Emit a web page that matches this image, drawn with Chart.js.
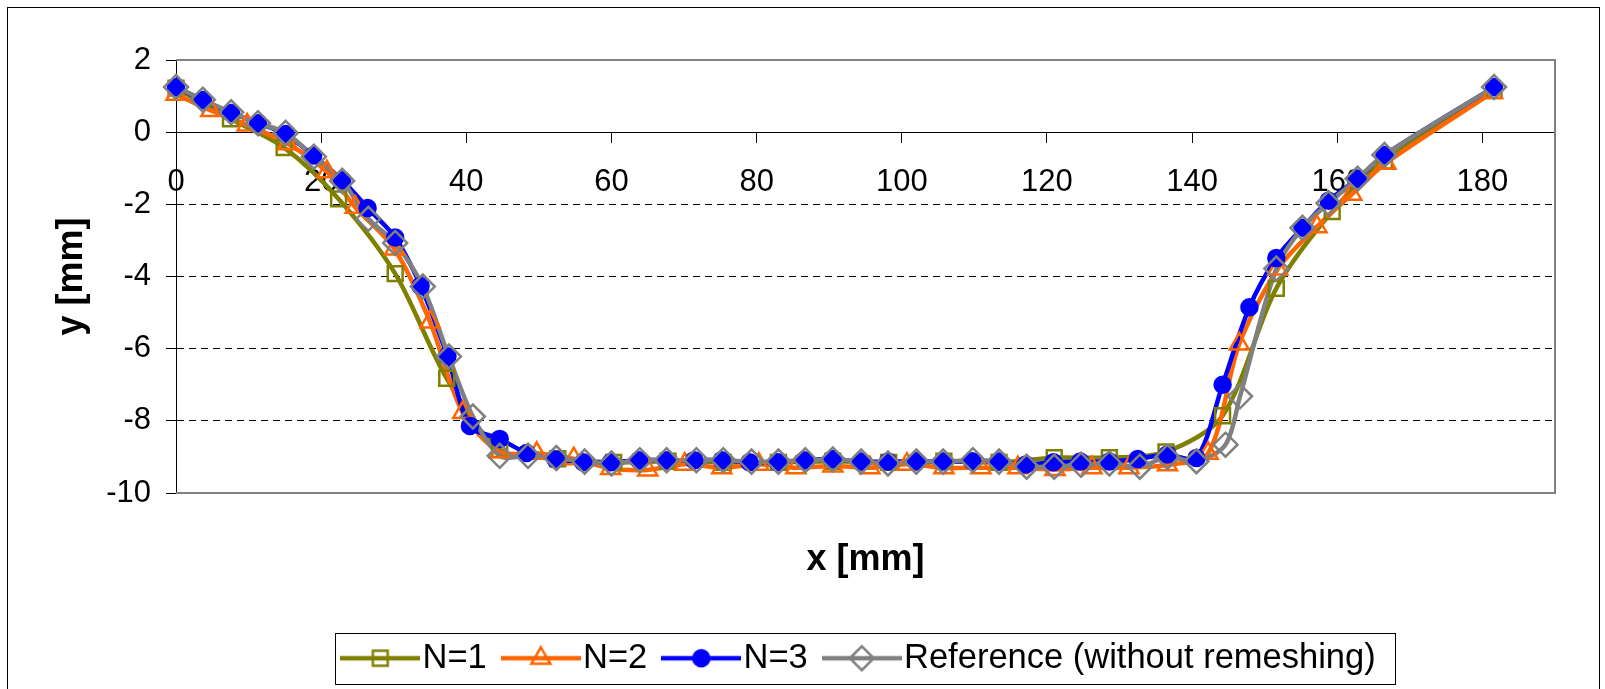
<!DOCTYPE html>
<html>
<head>
<meta charset="utf-8">
<title>y profile along x</title>
<script src="https://cdn.jsdelivr.net/npm/chart.js@4.4.1/dist/chart.umd.min.js"></script>
<style>
  body { margin: 0; background: #fff; }
  canvas { display: block; }
</style>
</head>
<body>
<canvas id="chart" width="1605" height="689"></canvas>
<script>
// axis ticks
const xTicks = [0, 20, 40, 60, 80, 100, 120, 140, 160, 180];
const yTicks = [-10, -8, -6, -4, -2, 0, 2];

const names = ['N=1', 'N=2', 'N=3', 'Reference (without remeshing)'];

// N=1
const n1X = [0, 7.5, 14.9, 22.4, 30.2, 37.3, 44.6, 52.6, 60.3, 67.8, 75.4, 83, 90.5, 98.2, 105.8, 113.4, 121, 128.6, 136.4, 144.2, 151.6, 159.3, 166.5, 181.6];
const n1Y = [1.22, 0.37, -0.43, -1.85, -3.92, -6.82, -8.8, -9.05, -9.15, -9.12, -9.15, -9.15, -9.12, -9.15, -9.12, -9.15, -9.02, -9.02, -8.86, -7.86, -4.33, -2.2, -0.8, 1.15];

// N=2
const n2X = [0, 4.8, 9.8, 15.4, 20.8, 24.7, 30.1, 35, 39.5, 44.6, 49.7, 54.8, 59.9, 65, 70.1, 75.2, 80.3, 85.4, 90.5, 95.6, 100.7, 105.8, 110.9, 116, 121.1, 126.2, 131.3, 136.6, 142.2, 146.5, 151.8, 157.2, 162, 166.7, 181.4];
const n2Y = [1.05, 0.6, 0.2, -0.32, -1.1, -2.08, -3.24, -5.26, -7.77, -8.86, -8.9, -9.05, -9.32, -9.36, -9.2, -9.3, -9.2, -9.3, -9.25, -9.3, -9.2, -9.3, -9.3, -9.3, -9.35, -9.3, -9.3, -9.22, -8.9, -5.87, -3.79, -2.62, -1.72, -0.86, 1.1];

// N=3
const n3X = [0, 3.7, 7.6, 11.3, 15.1, 18.9, 22.9, 26.4, 30.2, 33.7, 37.4, 40.5, 44.6, 48.3, 52.3, 56.1, 59.9, 63.8, 67.6, 71.4, 75.2, 79, 82.9, 86.6, 90.5, 94.4, 98.1, 102, 105.7, 109.7, 113.4, 117.1, 120.9, 124.6, 128.6, 132.5, 136.6, 140.6, 144.2, 147.9, 151.6, 155.2, 158.8, 162.8, 166.5, 181.6];
const n3Y = [1.25, 0.89, 0.53, 0.25, -0.05, -0.65, -1.33, -2.1, -2.92, -4.26, -6.21, -8.14, -8.5, -8.89, -9.07, -9.15, -9.15, -9.09, -9.09, -9.09, -9.09, -9.15, -9.15, -9.09, -9.06, -9.13, -9.13, -9.12, -9.13, -9.12, -9.13, -9.21, -9.15, -9.13, -9.13, -9.06, -8.93, -9.03, -7.0, -4.85, -3.49, -2.65, -1.9, -1.29, -0.63, 1.25];

// Reference (without remeshing)
const refX = [0, 3.7, 7.6, 11.3, 15.1, 19, 22.9, 26.5, 30.2, 34, 37.6, 40.9, 44.6, 48.5, 52.4, 56.3, 60, 63.9, 67.6, 71.7, 75.4, 79.3, 83, 86.7, 90.5, 94.4, 98.1, 102, 105.7, 109.8, 113.4, 117.2, 121, 124.7, 128.6, 132.8, 136.6, 140.6, 144.6, 146.6, 151.6, 155.2, 158.8, 162.8, 166.5, 181.6];
const refY = [1.25, 0.9, 0.55, 0.25, -0.02, -0.68, -1.35, -2.4, -3.07, -4.28, -6.22, -7.88, -8.97, -8.97, -9.03, -9.13, -9.18, -9.09, -9.09, -9.09, -9.09, -9.13, -9.13, -9.09, -9.07, -9.13, -9.18, -9.13, -9.13, -9.09, -9.13, -9.27, -9.27, -9.22, -9.18, -9.27, -9.0, -9.12, -8.66, -7.32, -3.78, -2.65, -1.97, -1.29, -0.63, 1.25];

const FONT = 'Arial, "Liberation Sans", sans-serif';
const colors = ['#808000', '#ff6600', '#0000ff', '#808080'];
const markers = ['rect', 'triangle', 'circle', 'rectRot'];
const markerSize = [10.5, 11, 8, 12];
const markerFill = ['rgba(0,0,0,0)', 'rgba(0,0,0,0)', '#0000ff', 'rgba(0,0,0,0)'];

const pts = (xs, ys) => xs.map((x, i) => ({ x: x, y: ys[i] }));
const series = [pts(n1X, n1Y), pts(n2X, n2Y), pts(n3X, n3Y), pts(refX, refY)];

// Excel draws every line first, then the markers on top
const lineSets = series.map((data, i) => ({
  label: names[i],
  data: data,
  xAxisID: 'x',
  yAxisID: 'y',
  showLine: true,
  borderColor: colors[i],
  borderWidth: 4.5,
  tension: 0.3,
  pointRadius: 0,
  pointHoverRadius: 0,
  order: 8 - i
}));
const markSets = series.map((data, i) => ({
  label: names[i] + ' markers',
  data: data,
  xAxisID: 'x',
  yAxisID: 'y',
  showLine: false,
  pointStyle: markers[i],
  pointRadius: markerSize[i],
  pointHoverRadius: markerSize[i],
  pointBorderColor: colors[i],
  pointBackgroundColor: markerFill[i],
  pointBorderWidth: 2.5,
  clip: false,
  order: 4 - i
}));

// legend sample: a short line with the marker in its middle
function sample(i) {
  const c = document.createElement('canvas');
  c.width = 80;
  c.height = 34;
  const g = c.getContext('2d');
  g.strokeStyle = colors[i];
  g.lineWidth = 4.5;
  g.beginPath();
  g.moveTo(0, 17);
  g.lineTo(80, 17);
  g.stroke();
  g.fillStyle = markerFill[i];
  g.lineWidth = 2.5;
  Chart.helpers.drawPoint(g, { pointStyle: markers[i], radius: markerSize[i], borderWidth: 2.5, rotation: 0 }, 40, 17);
  return c;
}
const samples = names.map((n, i) => sample(i));

const framePlugin = {
  id: 'frames',
  beforeDatasetsDraw(chart) {
    const { ctx, chartArea: a } = chart;
    ctx.save();
    ctx.strokeStyle = '#808080';
    ctx.lineWidth = 2;
    ctx.beginPath();
    ctx.moveTo(a.left, a.top);
    ctx.lineTo(a.right, a.top);
    ctx.lineTo(a.right, a.bottom);
    ctx.lineTo(a.left, a.bottom);
    ctx.stroke();
    ctx.restore();
  },
  afterDraw(chart) {
    const { ctx, legend } = chart;
    const boxes = legend.legendHitBoxes;
    const first = boxes[0];
    const last = boxes[boxes.length - 1];
    const cy = first.top + first.height / 2;
    const x1 = Math.round(first.left - 20);
    const x2 = Math.round(last.left + last.width + 19);
    ctx.save();
    ctx.strokeStyle = '#000';
    ctx.lineWidth = 1;
    ctx.strokeRect(x1 + 0.5, Math.round(cy - 25.5) + 0.5, x2 - x1, 51);
    ctx.strokeRect(7.5, 7.5, 1592, 700);
    ctx.restore();
  }
};

new Chart(document.getElementById('chart'), {
  type: 'scatter',
  data: { datasets: lineSets.concat(markSets) },
  plugins: [framePlugin],
  options: {
    responsive: false,
    animation: false,
    events: [],
    layout: { padding: { top: 60, right: 50, bottom: 3.5, left: 0 } },
    scales: {
      x: {
        type: 'linear',
        position: { y: 0 },
        min: 0,
        max: 190,
        afterBuildTicks: (scale) => { scale.ticks = xTicks.map(v => ({ value: v })); },
        grid: { drawOnChartArea: false, drawTicks: true, tickLength: 10, tickColor: '#000' },
        border: { display: true, color: '#000', width: 1 },
        ticks: { color: '#000', padding: 22, maxRotation: 0, font: { family: FONT, size: 31 } }
      },
      x2: {
        type: 'linear',
        position: 'bottom',
        min: 0,
        max: 190,
        grid: { display: false },
        border: { display: false },
        ticks: { display: false },
        title: {
          display: true,
          text: 'x [mm]',
          color: '#000',
          font: { family: FONT, size: 36, weight: 'bold' },
          padding: { top: 37.8, bottom: 30 }
        }
      },
      y: {
        type: 'linear',
        position: 'left',
        min: -10,
        max: 2,
        afterBuildTicks: (scale) => { scale.ticks = yTicks.map(v => ({ value: v })); },
        afterFit: (scale) => { scale.width = 176; },
        grid: {
          color: (c) => (c.tick && (c.tick.value === 2 || c.tick.value === -10)) ? 'rgba(0,0,0,0)' : '#000',
          lineWidth: 1,
          tickLength: 10,
          tickColor: '#000'
        },
        border: {
          display: true,
          color: '#000',
          width: 1,
          dash: (c) => (c.tick && c.tick.value !== 0) ? [7, 5] : []
        },
        ticks: { color: '#000', padding: 15, font: { family: FONT, size: 31 } },
        title: {
          display: true,
          text: 'y [mm]',
          color: '#000',
          font: { family: FONT, size: 36, weight: 'bold' },
          padding: { top: 50, bottom: 0 }
        }
      }
    },
    plugins: {
      tooltip: { enabled: false },
      legend: {
        position: 'bottom',
        fullSize: false,
        labels: {
          usePointStyle: true,
          pointStyleWidth: 50,
          padding: 29,
          color: '#000',
          font: { family: FONT, size: 34.5 },
          generateLabels: () => names.map((n, i) => ({
            text: n,
            pointStyle: samples[i],
            datasetIndex: i,
            fillStyle: 'rgba(0,0,0,0)',
            strokeStyle: 'rgba(0,0,0,0)',
            lineWidth: 0,
            fontColor: '#000',
            hidden: false
          }))
        }
      }
    }
  }
});
</script>
</body>
</html>
